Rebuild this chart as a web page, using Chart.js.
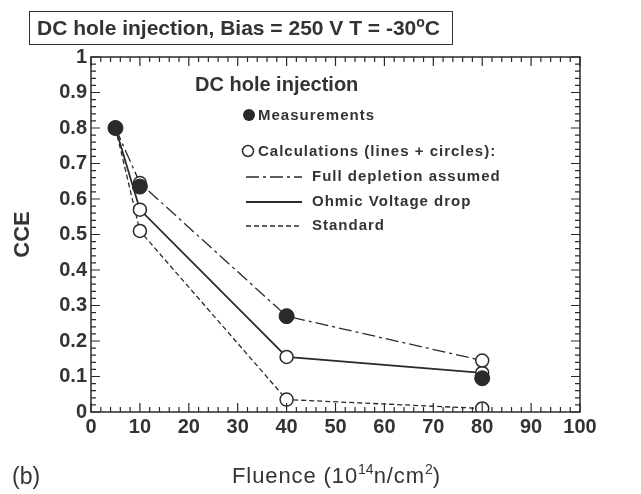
<!DOCTYPE html>
<html>
<head>
<meta charset="utf-8">
<script src="https://cdn.jsdelivr.net/npm/chart.js@4.4.1/dist/chart.umd.min.js"></script>
<style>
  html, body { margin: 0; padding: 0; background: #fff; }
  #wrap { position: relative; width: 641px; height: 494px; }
  canvas { position: absolute; left: 0; top: 0; }
  .box {
    position: absolute; left: 29px; top: 11px; width: 424px; height: 34px;
    border: 1.5px solid #333; box-sizing: border-box;
    font: bold 21px 'Liberation Sans', Arial, sans-serif; color: #333;
    line-height: 32px; padding-left: 7px; white-space: nowrap;
  }
  .box sup { font-size: 14px; vertical-align: 8px; line-height: 0; }
  .xtitle {
    position: absolute; left: 232px; top: 463px;
    font: 22px 'Liberation Sans', Arial, sans-serif; color: #333;
    letter-spacing: 0.9px; white-space: nowrap;
  }
  .xtitle sup { font-size: 14px; vertical-align: 9px; line-height: 0; letter-spacing: 0; }
  .panel {
    position: absolute; left: 12px; top: 463px;
    font: 23px 'Liberation Sans', Arial, sans-serif; color: #333;
  }
</style>
</head>
<body>
<div id="wrap">
  <canvas id="cce" width="641" height="494"></canvas>
  <div class="box">DC hole injection, Bias = 250 V T = -30<sup>o</sup>C</div>
  <div class="xtitle">Fluence (10<sup>14</sup>n/cm<sup>2</sup>)</div>
  <div class="panel">(b)</div>
</div>
<script>
// Fluence in units of 1e14 n/cm^2
const fluence = [5, 10, 40, 80];

// Charge collection efficiency
const measured      = [0.80, 0.635, 0.27, 0.095];
const fullDepletion = [0.80, 0.645, 0.27, 0.145];
const ohmicDrop     = [0.80, 0.57, 0.155, 0.11];
const standard      = [0.80, 0.51, 0.035, 0.01];

const INK = '#2a2a2a';
const TEXT = '#333';
const FONT = "'Liberation Sans', Arial, sans-serif";

const DASH_FULL = [13, 4, 3, 4];
const DASH_STD = [5, 3];

function pts(ys) {
  return fluence.map((x, i) => ({ x: x, y: ys[i] }));
}

function calcSet(label, ys, dash, width) {
  return {
    label: label,
    data: pts(ys),
    showLine: true,
    borderColor: INK,
    borderWidth: width,
    borderDash: dash,
    pointRadius: 6.5,
    pointBorderWidth: 1.5,
    pointBackgroundColor: '#fff',
    pointBorderColor: INK,
    tension: 0,
  };
}

// Inward ticks on all four sides plus the frame
const frameTicks = {
  id: 'frameTicks',
  afterDatasetsDraw(chart) {
    const { ctx, chartArea: a, scales } = chart;
    const xs = scales.x, ys = scales.y;
    ctx.save();
    ctx.strokeStyle = INK;
    ctx.lineWidth = 1.5;
    ctx.strokeRect(a.left, a.top, a.right - a.left, a.bottom - a.top);
    ctx.lineWidth = 1.2;
    ctx.beginPath();
    for (let v = 0; v <= 100; v += 2) {
      const px = xs.getPixelForValue(v);
      const len = v % 10 === 0 ? 9 : 5;
      ctx.moveTo(px, a.bottom); ctx.lineTo(px, a.bottom - len);
      ctx.moveTo(px, a.top); ctx.lineTo(px, a.top + len);
    }
    for (let i = 0; i <= 50; i++) {
      const py = ys.getPixelForValue(i / 50);
      const len = i % 5 === 0 ? 9 : 5;
      ctx.moveTo(a.left, py); ctx.lineTo(a.left + len, py);
      ctx.moveTo(a.right, py); ctx.lineTo(a.right - len, py);
    }
    ctx.stroke();
    ctx.restore();
  },
};

// Legend block inside the plot
const innerLegend = {
  id: 'innerLegend',
  afterDraw(chart) {
    const ctx = chart.ctx;
    ctx.save();
    ctx.fillStyle = TEXT;
    ctx.textBaseline = 'middle';
    ctx.font = 'bold 20px ' + FONT;
    ctx.fillText('DC hole injection', 195, 85);

    ctx.font = 'bold 15px ' + FONT;
    ctx.letterSpacing = '1px';
    ctx.fillText('Measurements', 258, 116);
    ctx.fillText('Calculations (lines + circles):', 258, 152);
    ctx.fillText('Full depletion assumed', 312, 177);
    ctx.fillText('Ohmic Voltage drop', 312, 202);
    ctx.fillText('Standard', 312, 226);

    ctx.fillStyle = INK;
    ctx.beginPath(); ctx.arc(249, 115, 6, 0, Math.PI * 2); ctx.fill();
    ctx.strokeStyle = INK;
    ctx.lineWidth = 1.5;
    ctx.beginPath(); ctx.arc(248, 151, 5.5, 0, Math.PI * 2); ctx.stroke();

    const samples = [[177, DASH_FULL, 1.3], [202, [], 1.8], [226, DASH_STD, 1.3]];
    samples.forEach(([y, dash, w]) => {
      ctx.setLineDash(dash);
      ctx.lineWidth = w;
      ctx.beginPath(); ctx.moveTo(246, y); ctx.lineTo(302, y); ctx.stroke();
    });
    ctx.restore();
  },
};

new Chart(document.getElementById('cce'), {
  type: 'scatter',
  data: {
    datasets: [
      {
        label: 'Measurements',
        data: pts(measured),
        showLine: false,
        pointRadius: 7.5,
        pointBackgroundColor: INK,
        pointBorderColor: INK,
        pointBorderWidth: 1,
      },
      calcSet('Full depletion assumed', fullDepletion, DASH_FULL, 1.3),
      calcSet('Ohmic Voltage drop', ohmicDrop, [], 1.8),
      calcSet('Standard', standard, DASH_STD, 1.3),
    ],
  },
  options: {
    responsive: false,
    animation: false,
    layout: { padding: { top: 57, right: 61, left: 0, bottom: 0 } },
    plugins: { legend: { display: false }, tooltip: { enabled: false } },
    scales: {
      x: {
        type: 'linear', min: 0, max: 100,
        grid: { display: false, drawTicks: false },
        border: { display: false },
        ticks: { stepSize: 10, padding: 3, color: TEXT, font: { family: FONT, size: 20, weight: 'bold' }, maxRotation: 0 },
        afterFit(scale) { scale.height = 82; },
      },
      y: {
        min: 0, max: 1,
        grid: { display: false, drawTicks: false },
        border: { display: false },
        ticks: {
          stepSize: 0.1, padding: 4, color: TEXT,
          font: { family: FONT, size: 20, weight: 'bold' },
          callback: (v) => String(+v.toFixed(1)),
        },
        title: { display: true, text: 'CCE', color: TEXT, font: { family: FONT, size: 22, weight: 'bold' }, padding: { top: 10, bottom: 0 } },
        afterFit(scale) { scale.width = 91; },
      },
    },
  },
  plugins: [frameTicks, innerLegend],
});
</script>
</body>
</html>
